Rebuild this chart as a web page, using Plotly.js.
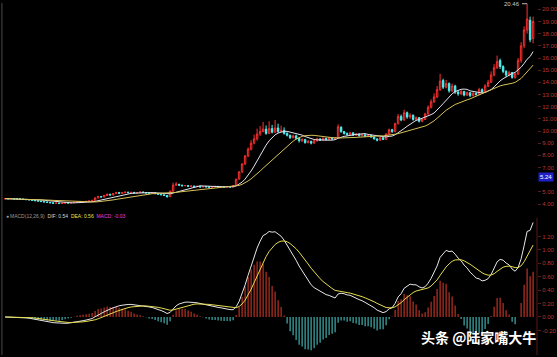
<!DOCTYPE html>
<html>
<head>
<meta charset="utf-8">
<script src="https://cdn.plot.ly/plotly-3.0.1.min.js"></script>
<style>
  html, body { margin: 0; padding: 0; background: #000; }
  #chart { width: 557px; height: 357px; }
</style>
</head>
<body>
<div id="chart"></div>
<script>
// Daily bars: open / close / high / low, one entry per trading day
const opens = [
  4.43,4.44,4.43,4.45,4.42,4.41,4.40,4.38,4.36,4.34,4.30,4.27,4.24,4.20,4.17,
  4.14,4.10,4.06,4.09,4.04,4.07,4.10,4.08,
  4.12,4.15,4.18,4.16,4.20,4.22,4.25,
  4.30,4.50,4.62,4.58,4.70,4.80,4.74,
  4.85,4.95,4.88,4.92,4.98,4.93,4.96,4.90,4.94,4.99,4.95,4.91,4.88,4.92,4.85,4.80,4.76,
  4.70,4.60,5.05,
  5.55,5.62,5.55,5.50,5.52,5.45,5.48,5.42,5.46,5.40,5.44,5.41,5.38,5.42,5.45,5.40,5.43,5.39,5.42,
  5.40,5.52,6.05,6.65,7.30,7.95,8.50,9.00,9.35,
  9.75,9.95,10.15,9.80,10.20,9.90,10.25,9.95,10.05,
  9.80,9.65,9.45,9.60,9.40,9.20,9.30,9.05,9.15,9.00,9.20,9.35,9.25,9.40,9.30,9.45,9.35,
  9.45,10.30,
  9.95,9.80,9.70,9.85,9.65,9.75,9.60,9.70,9.55,9.65,
  9.50,9.35,9.25,9.45,
  9.30,9.75,10.10,
  9.95,10.60,11.20,10.90,
  11.50,11.15,11.30,10.95,11.10,10.80,
  10.95,11.40,11.95,12.40,
  12.80,13.40,14.15,13.60,13.90,13.30,13.70,
  13.20,13.05,13.25,12.95,13.15,12.90,13.10,
  13.00,13.40,13.20,13.70,
  14.00,14.60,15.20,15.80,
  15.30,14.90,14.60,14.80,14.40,
  14.70,15.80,17.00,18.30,19.10,17.60
];
const closes = [
  4.44,4.43,4.45,4.42,4.41,4.40,4.38,4.36,4.34,4.30,4.27,4.24,4.20,4.17,4.14,
  4.10,4.06,4.08,4.04,4.07,4.10,4.08,4.12,
  4.15,4.18,4.16,4.20,4.22,4.25,4.30,
  4.50,4.62,4.58,4.70,4.80,4.74,4.85,
  4.95,4.88,4.92,4.98,4.93,4.96,4.90,4.94,4.99,4.95,4.91,4.88,4.92,4.85,4.80,4.76,4.70,
  4.58,5.05,5.55,
  5.62,5.55,5.50,5.52,5.45,5.48,5.42,5.46,5.40,5.44,5.41,5.38,5.42,5.45,5.40,5.43,5.39,5.42,5.40,
  5.50,6.05,6.65,7.30,7.95,8.50,9.00,9.35,9.75,
  9.95,10.15,9.80,10.20,9.90,10.25,9.95,10.05,9.80,
  9.65,9.45,9.60,9.40,9.20,9.30,9.05,9.15,9.00,9.20,9.35,9.25,9.40,9.30,9.45,9.35,9.40,
  10.35,9.95,
  9.80,9.70,9.85,9.65,9.75,9.60,9.70,9.55,9.65,9.50,
  9.35,9.25,9.45,9.30,
  9.75,10.10,9.95,
  10.60,11.20,10.90,11.50,
  11.15,11.30,10.95,11.10,10.80,10.95,
  11.40,11.95,12.40,12.80,
  13.40,14.10,13.60,13.90,13.30,13.70,13.20,
  13.05,13.25,12.95,13.15,12.90,13.10,13.00,
  13.40,13.20,13.70,14.00,
  14.60,15.20,15.70,15.30,
  14.90,14.60,14.80,14.40,14.70,
  15.80,17.00,18.30,19.20,17.50,19.00
];
const highs = [
  4.47,4.46,4.48,4.46,4.44,4.43,4.42,4.40,4.38,4.35,4.32,4.29,4.26,4.22,4.19,
  4.16,4.12,4.11,4.10,4.09,4.13,4.12,4.14,
  4.17,4.20,4.21,4.22,4.25,4.28,4.33,
  4.55,4.68,4.66,4.75,4.86,4.84,4.90,
  5.00,4.97,4.95,5.02,5.00,4.99,4.98,4.97,5.03,5.01,4.97,4.93,4.95,4.93,4.87,4.82,4.78,
  4.72,5.10,5.75,
  5.80,5.66,5.58,5.56,5.54,5.52,5.50,5.49,5.48,5.47,5.46,5.43,5.45,5.48,5.47,5.46,5.45,5.45,5.44,
  5.56,6.05,6.66,7.32,8.03,8.65,9.25,9.70,10.20,
  10.40,10.75,10.45,10.80,10.50,10.90,10.60,10.45,10.30,
  9.90,9.70,9.70,9.70,9.45,9.40,9.35,9.25,9.20,9.28,9.45,9.40,9.48,9.45,9.52,9.50,9.48,
  10.55,10.40,
  10.00,9.88,9.92,9.90,9.82,9.80,9.76,9.74,9.70,9.68,
  9.55,9.40,9.50,9.50,
  9.82,10.20,10.18,
  10.70,11.40,11.35,11.75,
  11.60,11.45,11.35,11.20,11.15,11.05,
  11.50,12.10,12.60,13.10,
  13.70,14.70,14.30,14.20,14.00,13.90,13.80,
  13.35,13.40,13.30,13.25,13.20,13.20,13.18,
  13.55,13.50,13.85,14.20,
  14.90,15.50,16.20,15.95,
  15.40,15.00,14.95,14.85,14.80,
  16.00,17.30,18.60,20.46,19.40,19.40
];
const lows = [
  4.41,4.41,4.42,4.40,4.39,4.38,4.36,4.34,4.32,4.28,4.25,4.22,4.18,4.15,4.12,
  4.08,4.03,4.04,4.00,4.02,4.05,4.06,4.07,
  4.10,4.13,4.14,4.15,4.18,4.20,4.23,
  4.28,4.46,4.54,4.55,4.66,4.70,4.71,
  4.82,4.85,4.85,4.90,4.90,4.90,4.87,4.88,4.92,4.92,4.88,4.85,4.86,4.82,4.77,4.73,4.66,
  4.55,4.58,5.02,
  5.48,5.50,5.45,5.46,5.42,5.42,5.39,5.40,5.37,5.38,5.38,5.35,5.36,5.40,5.37,5.38,5.36,5.37,5.37,
  5.38,5.50,6.00,6.55,7.20,7.85,8.40,8.90,9.20,
  9.60,9.90,9.70,9.75,9.80,9.85,9.85,9.90,9.70,
  9.55,9.35,9.40,9.30,9.05,9.10,8.95,8.98,8.90,8.95,9.12,9.18,9.20,9.22,9.25,9.28,9.30,
  9.40,9.85,
  9.70,9.62,9.65,9.60,9.60,9.55,9.55,9.50,9.50,9.45,
  9.30,9.15,9.20,9.25,
  9.28,9.70,9.85,
  9.90,10.55,10.80,10.85,
  11.00,11.00,10.85,10.85,10.70,10.72,
  10.90,11.35,11.85,12.30,
  12.70,13.30,13.45,13.50,13.15,13.20,13.05,
  12.90,12.95,12.85,12.88,12.80,12.85,12.90,
  12.95,13.10,13.15,13.60,
  13.95,14.50,15.10,15.10,
  14.75,14.45,14.50,14.30,14.30,
  14.60,15.60,16.80,18.00,17.30,17.20
];

// Right-hand scale labels (6.00 sits under the cursor price box)
const priceTicks = [20,19,18,17,16,15,14,13,12,11,10,9,8,7,5,4];
const macdTicks = [1.2,1.0,0.8,0.6,0.4,0.2,0.0,-0.2];

// Buy-signal flags under the price panel (bar index)
const signalBars = [34, 163];

// Highest high of the period
const peakValue = 20.46;
const peakLabel = '20.46';

// Indicator readout shown above the MACD panel
const macdHeader = [
  {text: 'MACD(12,26,9)', color: '#9a9a9a'},
  {text: 'DIF: 0.54', color: '#d8d8d8'},
  {text: 'DEA: 0.56', color: '#e6e24a'},
  {text: 'MACD: -0.03', color: '#e040e0'}
];
const cursorPrice = '5.24';
const watermark = '头条 @陆家嘴大牛';

// ---- indicator helpers ----
function ema(arr, n) {
  const out = [arr[0]];
  for (let i = 1; i < arr.length; i++) out.push((2 * arr[i] + (n - 1) * out[i - 1]) / (n + 1));
  return out;
}
function sma(arr, n) {
  return arr.map((_, i) => {
    const s = Math.max(0, i - n + 1);
    const w = arr.slice(s, i + 1);
    return w.reduce((a, b) => a + b, 0) / w.length;
  });
}

const idx = closes.map((_, i) => i);
const ema12 = ema(closes, 12), ema26 = ema(closes, 26);
const dif = ema12.map((v, i) => v - ema26[i]);
const dea = ema(dif, 9);
const hist = dif.map((v, i) => 2 * (v - dea[i]));
const ma10 = sma(closes, 10), ma20 = sma(closes, 20);

const RED = '#ff3030', CYAN = '#50f0f0';

const traces = [
  {
    type: 'candlestick', x: idx, open: opens, high: highs, low: lows, close: closes,
    xaxis: 'x', yaxis: 'y',
    increasing: {line: {color: RED, width: 1}, fillcolor: '#000000'},
    decreasing: {line: {color: CYAN, width: 1}, fillcolor: CYAN},
    whiskerwidth: 0, hoverinfo: 'skip'
  },
  {type: 'scatter', mode: 'lines', x: idx, y: ma10, xaxis: 'x', yaxis: 'y',
   line: {color: '#e4e4f0', width: 1}, hoverinfo: 'skip'},
  {type: 'scatter', mode: 'lines', x: idx, y: ma20, xaxis: 'x', yaxis: 'y',
   line: {color: '#d8c255', width: 1}, hoverinfo: 'skip'},
  {type: 'scatter', mode: 'markers', x: signalBars, y: signalBars.map(() => 3.36),
   xaxis: 'x', yaxis: 'y', cliponaxis: false,
   marker: {symbol: 'square', size: 4, color: '#e02020'}, hoverinfo: 'skip'},
  {type: 'bar', x: idx, y: hist, xaxis: 'x2', yaxis: 'y2', width: 0.35,
   marker: {color: hist.map(v => v >= 0 ? '#d83a2a' : '#48c8c8'), line: {width: 0}},
   hoverinfo: 'skip'},
  {type: 'scatter', mode: 'lines', x: idx, y: dif, xaxis: 'x2', yaxis: 'y2',
   line: {color: '#e8e8e8', width: 1}, hoverinfo: 'skip'},
  {type: 'scatter', mode: 'lines', x: idx, y: dea, xaxis: 'x2', yaxis: 'y2',
   line: {color: '#e6dc50', width: 1}, hoverinfo: 'skip'}
];

const smallFont = 'Liberation Sans, Arial, sans-serif';
const axisFont = {family: smallFont, size: 6, color: '#b03a34'};
const xr = [-0.7, closes.length + 0.3];

// One readout line, each field in its own colour
const headerText = macdHeader
  .map(h => '<span style="color:' + h.color + '">' + h.text + '</span>')
  .join('  ');

const layout = {
  width: 557, height: 357,
  margin: {l: 3, r: 20, t: 3, b: 2},
  paper_bgcolor: '#000000', plot_bgcolor: '#000000',
  showlegend: false,
  xaxis: {domain: [0, 1], range: xr, visible: false, rangeslider: {visible: false}, anchor: 'y'},
  xaxis2: {domain: [0, 1], range: xr, visible: false, anchor: 'y2'},
  yaxis: {
    domain: [0.412, 1], range: [3.51, 20.52], side: 'right', anchor: 'x',
    tickvals: priceTicks, ticktext: priceTicks.map(v => v.toFixed(2)),
    tickfont: axisFont, ticks: 'outside', ticklen: 3, tickcolor: '#5a1a1a',
    showgrid: false, zeroline: false, showline: false
  },
  yaxis2: {
    domain: [0, 0.378], range: [-0.567, 1.418], side: 'right', anchor: 'x2',
    tickvals: macdTicks, ticktext: macdTicks.map(v => v.toFixed(2)),
    tickfont: axisFont, ticks: 'outside', ticklen: 3, tickcolor: '#5a1a1a',
    showgrid: false, zeroline: false, showline: false
  },
  shapes: [
    {type: 'line', xref: 'paper', yref: 'paper', x0: -0.002, x1: -0.002, y0: 0, y1: 1,
     line: {color: '#4a4a4a', width: 1}},
    {type: 'line', xref: 'paper', yref: 'paper', x0: 1, x1: 1, y0: 0, y1: 0.39,
     line: {color: '#5a1818', width: 1}},
    {type: 'line', xref: 'x', yref: 'y', x0: 172.3, x1: 174, y0: peakValue, y1: peakValue,
     line: {color: '#bbbbbb', width: 1}}
  ],
  annotations: [
    {xref: 'paper', yref: 'paper', x: 0.002, y: 0.395, xanchor: 'left', yanchor: 'middle',
     text: '●', showarrow: false, font: {size: 5, color: '#9a9a9a'}},
    {xref: 'paper', yref: 'paper', x: 0.0094, y: 0.395, xanchor: 'left', yanchor: 'middle',
     text: headerText, showarrow: false, font: {family: smallFont, size: 5, color: '#9a9a9a'}},
    {xref: 'x', yref: 'y', x: 172.2, y: peakValue, xanchor: 'right', yanchor: 'middle',
     text: peakLabel, showarrow: false, font: {family: smallFont, size: 6, color: '#c8c8c8'}},
    {xref: 'paper', yref: 'paper', x: 1, xshift: 1, y: 0.506, xanchor: 'left', yanchor: 'middle',
     text: cursorPrice, showarrow: false, bgcolor: '#2020c8', borderpad: 1,
     font: {family: smallFont, size: 6, color: '#ffffff'}},
    {xref: 'paper', yref: 'paper', x: 0.89, y: 0.051, xanchor: 'center', yanchor: 'middle',
     text: '<b>' + watermark + '</b>', showarrow: false,
     font: {family: 'Noto Sans CJK SC, sans-serif', size: 14, color: '#ffffff'}}
  ]
};

Plotly.newPlot('chart', traces, layout, {staticPlot: true, displayModeBar: false});
</script>
</body>
</html>
